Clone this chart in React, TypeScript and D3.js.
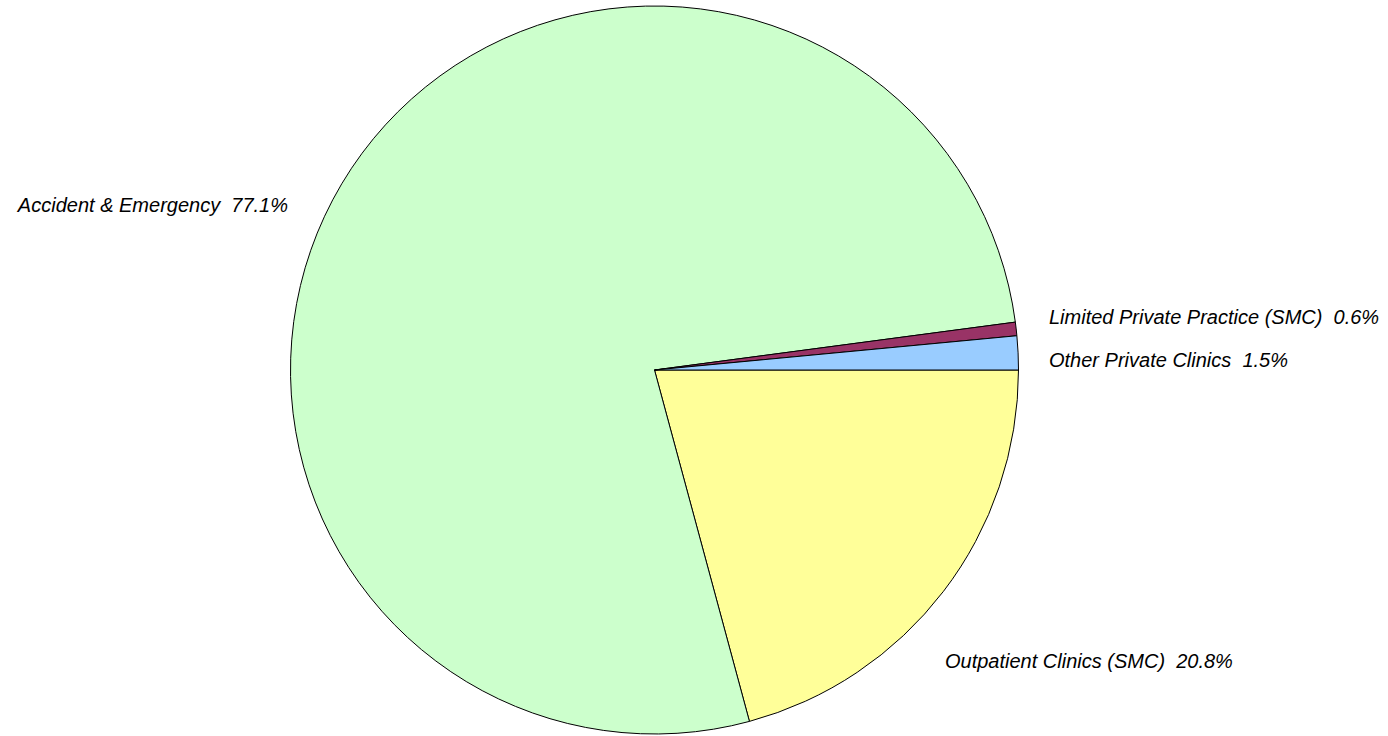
import React from "react";
import * as d3 from "d3";

const categories = [
  "Outpatient Clinics (SMC)",
  "Accident & Emergency",
  "Limited Private Practice (SMC)",
  "Other Private Clinics",
];
const values = [20.8, 77.1, 0.6, 1.5];
const colors = ["#FFFF99", "#CCFFCC", "#993366", "#99CCFF"];

const W = 1388;
const H = 736;
const CX = 654.5;
const CY = 370;
const R = 364;

// label anchors (layout only)
const labelLayout = [
  { x: 945, y: 668, anchor: "start" },
  { x: 288, y: 212, anchor: "end" },
  { x: 1049, y: 324, anchor: "start" },
  { x: 1049, y: 367, anchor: "start" },
];

export default function App() {
  const pie = d3
    .pie<number>()
    .sort(null)
    .value((d) => d)
    .startAngle(Math.PI / 2)
    .endAngle(Math.PI / 2 + 2 * Math.PI);
  const arcs = pie(values);
  const arc = d3.arc<d3.PieArcDatum<number>>().innerRadius(0).outerRadius(R);

  return (
    <div style={{ position: "fixed", left: 0, top: 0 }}>
      <svg width={W} height={H} style={{ display: "block", background: "#fff" }}>
        <g transform={`translate(${CX},${CY})`}>
          {arcs.map((a, i) => (
            <path key={i} d={arc(a) || ""} fill={colors[i]} stroke="#000" strokeWidth={1} strokeLinejoin="round" />
          ))}
        </g>
        {arcs.map((a, i) => (
          <text
            key={i}
            x={labelLayout[i].x}
            y={labelLayout[i].y}
            textAnchor={labelLayout[i].anchor as any}
            fontFamily="Liberation Sans, Arial, sans-serif"
            fontStyle="italic"
            fontSize={20}
            fill="#000"
            style={{ whiteSpace: "pre" }}
          >
            {`${categories[i]}  ${values[i].toFixed(1)}%`}
          </text>
        ))}
      </svg>
    </div>
  );
}
